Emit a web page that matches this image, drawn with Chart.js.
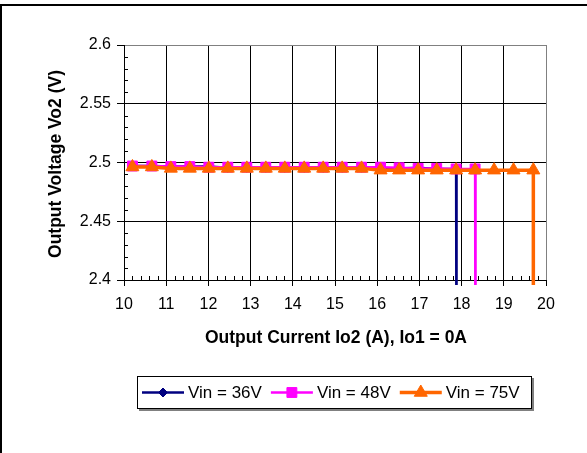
<!DOCTYPE html>
<html>
<head>
<meta charset="utf-8">
<script src="https://cdn.jsdelivr.net/npm/chart.js@4/dist/chart.umd.min.js"></script>
<style>
  html, body { margin: 0; padding: 0; background: #fff; }
  canvas { display: block; }
</style>
</head>
<body>
<canvas id="chart" width="587" height="453"></canvas>
<script>
// data
const current = [10.2, 10.66, 11.11, 11.56, 12.01, 12.46, 12.91, 13.36, 13.81, 14.27, 14.72,
  15.17, 15.63, 16.08, 16.52, 16.97, 17.41, 17.87, 18.32, 18.77, 19.23, 19.7];
const vin36 = [2.497, 2.497, 2.4965, 2.4965, 2.4965, 2.4955, 2.4955, 2.4955, 2.4955, 2.4955, 2.4955,
  2.4955, 2.4955, 2.495, 2.495, 2.4955, 2.4945, 2.4945];
const vin48 = [2.497, 2.497, 2.4965, 2.4965, 2.496, 2.496, 2.496, 2.496, 2.496, 2.496, 2.496,
  2.496, 2.496, 2.496, 2.4955, 2.495, 2.495, 2.4945, 2.4945];
const vin75 = [2.4962, 2.4962, 2.495, 2.495, 2.495, 2.495, 2.495, 2.495, 2.495, 2.495, 2.495,
  2.495, 2.495, 2.4935, 2.4935, 2.4935, 2.4935, 2.4935, 2.4935, 2.4935, 2.4935, 2.4935];
// where each curve falls off (shutdown current)
const dropCurrent = [17.88, 18.33, 19.7];
const dropVoltage = 2.3;

const seriesNames = ["Vin = 36V", "Vin = 48V", "Vin = 75V"];
const xTicks = [10, 11, 12, 13, 14, 15, 16, 17, 18, 19, 20];
const yTicks = [2.4, 2.45, 2.5, 2.55, 2.6];
const xTitle = "Output Current Io2 (A), Io1 = 0A";
const yTitle = "Output Voltage Vo2 (V)";

const FONT = "'Liberation Sans', Arial, sans-serif";

function toPoints(vals, i) {
  const pts = vals.map((v, k) => ({ x: current[k], y: v }));
  pts.push({ x: dropCurrent[i], y: dropVoltage });
  return pts;
}

const styles = [
  { color: "#000080", style: "rectRot", radius: 4.5, width: 2.5 },
  { color: "#ff00ff", style: "rect", radius: 7, width: 2.5 },
  { color: "#ff6600", style: "triangle", radius: 7.5, width: 3.5 }
];

const datasets = [vin36, vin48, vin75].map((vals, i) => ({
  label: seriesNames[i],
  data: toPoints(vals, i),
  borderColor: styles[i].color,
  backgroundColor: styles[i].color,
  borderWidth: styles[i].width,
  pointStyle: styles[i].style,
  pointRadius: styles[i].radius,
  pointBorderWidth: 1,
  pointBorderColor: styles[i].color,
  pointBackgroundColor: styles[i].color,
  tension: 0,
  order: 2 - i,
  clip: { left: 0, top: 0, right: 0, bottom: 5 }
}));

function marker(ctx, style, r, x, y, color) {
  ctx.save();
  ctx.fillStyle = color;
  ctx.strokeStyle = color;
  ctx.lineWidth = 1;
  if (Chart.helpers && Chart.helpers.drawPoint) {
    Chart.helpers.drawPoint(ctx, { pointStyle: style, radius: r, rotation: 0, borderWidth: 1 }, x, y);
  }
  ctx.restore();
}

const extras = {
  id: "extras",
  beforeDatasetsDraw(chart) {
    const ctx = chart.ctx;
    const xs = chart.scales.x, ys = chart.scales.y;
    const a = chart.chartArea;
    ctx.save();
    ctx.strokeStyle = "#000";
    ctx.lineWidth = 1;
    ctx.beginPath();
    // minor ticks, inside
    for (let i = 1; i < 20; i++) {
      if (i % 5 === 0) continue;
      const y = Math.round(ys.getPixelForValue(2.4 + i * 0.01)) + 0.5;
      ctx.moveTo(a.left, y); ctx.lineTo(a.left + 4, y);
    }
    for (let i = 1; i < 50; i++) {
      if (i % 5 === 0) continue;
      const x = Math.round(xs.getPixelForValue(10 + i * 0.2)) + 0.5;
      ctx.moveTo(x, a.bottom); ctx.lineTo(x, a.bottom - 4);
    }
    ctx.stroke();
    ctx.restore();
  },
  afterDraw(chart) {
    const ctx = chart.ctx;
    const a = chart.chartArea;
    ctx.save();
    // outer frame (top and left edges visible)
    ctx.fillStyle = "#000";
    ctx.fillRect(0, 4, chart.width, 2);
    ctx.fillRect(0, 4, 2, chart.height);

    // axis titles
    ctx.fillStyle = "#000";
    ctx.font = "bold 17.5px " + FONT;
    ctx.textAlign = "center";
    ctx.textBaseline = "middle";
    ctx.fillText(xTitle, (a.left + a.right) / 2 + 1, 338);
    ctx.save();
    ctx.translate(56, 164);
    ctx.rotate(-Math.PI / 2);
    ctx.fillText(yTitle, 0, 0);
    ctx.restore();

    // legend
    const bx = 137, by = 376, bw = 395, bh = 33;
    ctx.fillStyle = "#808080";
    ctx.fillRect(bx + 2, by + bh, bw, 2);
    ctx.fillRect(bx + bw, by + 2, 2, bh);
    ctx.fillStyle = "#fff";
    ctx.fillRect(bx, by, bw, bh);
    ctx.strokeStyle = "#000";
    ctx.lineWidth = 1;
    ctx.strokeRect(bx + 0.5, by + 0.5, bw - 1, bh - 1);
    ctx.font = "17px " + FONT;
    ctx.textAlign = "left";
    const cy = by + bh / 2;
    let x = 142;
    chart.data.datasets.forEach((ds, i) => {
      const s = styles[i];
      ctx.strokeStyle = s.color;
      ctx.lineWidth = s.width;
      ctx.beginPath();
      ctx.moveTo(x, cy); ctx.lineTo(x + 42, cy);
      ctx.stroke();
      marker(ctx, s.style, s.radius, x + 21, cy, s.color);
      ctx.fillStyle = "#000";
      ctx.fillText(ds.label, x + 46, cy + 1);
      x += 46 + ctx.measureText(ds.label).width + 9;
    });
    ctx.restore();
  }
};

new Chart(document.getElementById("chart"), {
  type: "line",
  data: { datasets },
  plugins: [extras],
  options: {
    responsive: false,
    animation: false,
    events: [],
    layout: { padding: { top: 45, right: 41, left: 0, bottom: 0 } },
    plugins: { legend: { display: false }, tooltip: { enabled: false } },
    scales: {
      x: {
        type: "linear",
        min: 10,
        max: 20,
        afterBuildTicks: (s) => { s.ticks = xTicks.map((v) => ({ value: v })); },
        afterFit: (s) => { s.height = 173; },
        ticks: { color: "#000", font: { family: FONT, size: 16 }, padding: 9, maxRotation: 0, autoSkip: false },
        grid: {
          color: (c) => (c.tick && c.tick.value === 20 ? "#808080" : "#000"),
          lineWidth: 1,
          tickLength: 6,
          tickColor: "#000"
        },
        border: { color: "#000", width: 1 }
      },
      y: {
        type: "linear",
        min: 2.4,
        max: 2.6,
        afterBuildTicks: (s) => { s.ticks = yTicks.map((v) => ({ value: v })); },
        afterFit: (s) => { s.width = 124; },
        ticks: {
          color: "#000",
          font: { family: FONT, size: 16 },
          padding: 6,
          autoSkip: false,
          callback: (v) => String(parseFloat(Number(v).toFixed(3)))
        },
        grid: {
          color: (c) => (c.tick && c.tick.value === 2.6 ? "#808080" : "#000"),
          lineWidth: 1,
          tickLength: 7,
          tickColor: "#000"
        },
        border: { color: "#000", width: 1 }
      }
    }
  }
});
</script>
</body>
</html>
